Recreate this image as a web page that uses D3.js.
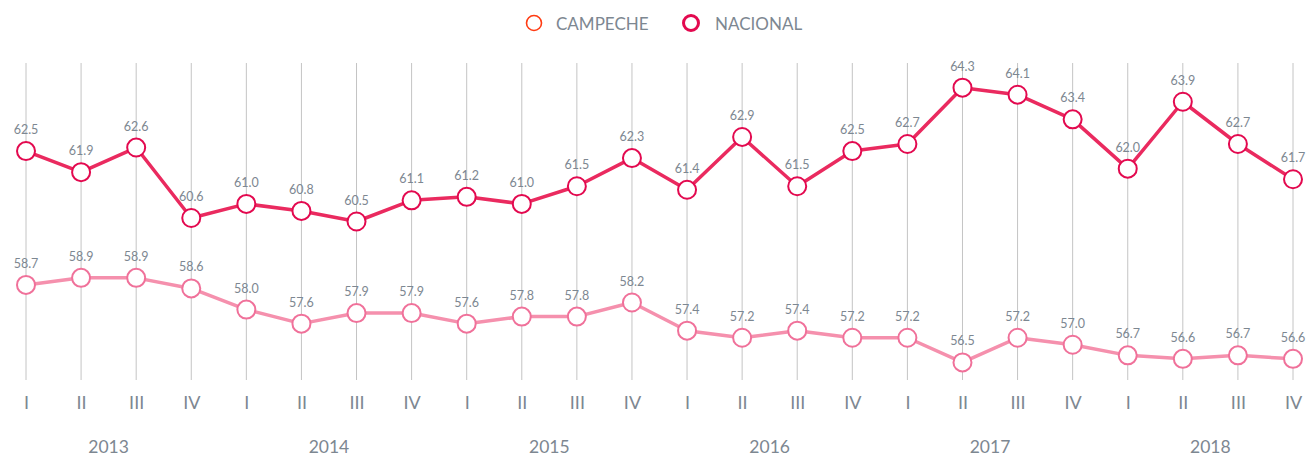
<!DOCTYPE html>
<html>
<head>
<meta charset="utf-8">
<script src="https://cdn.jsdelivr.net/npm/d3@7"></script>
<style>
  html, body { margin: 0; padding: 0; background: #fff; }
  svg { display: block; font-family: Lato, "Open Sans", sans-serif; }
</style>
</head>
<body>
<svg id="chart" width="1307" height="456"></svg>
<script>
// Quarterly series, 2013-I .. 2018-IV
const years = ["2013", "2014", "2015", "2016", "2017", "2018"];
const quarters = ["I", "II", "III", "IV"];
const campeche = [58.7, 58.9, 58.9, 58.6, 58.0, 57.6, 57.9, 57.9, 57.6, 57.8, 57.8, 58.2,
                  57.4, 57.2, 57.4, 57.2, 57.2, 56.5, 57.2, 57.0, 56.7, 56.6, 56.7, 56.6];
const nacional = [62.5, 61.9, 62.6, 60.6, 61.0, 60.8, 60.5, 61.1, 61.2, 61.0, 61.5, 62.3,
                  61.4, 62.9, 61.5, 62.5, 62.7, 64.3, 64.1, 63.4, 62.0, 63.9, 62.7, 61.7];

const periods = [];
years.forEach(y => quarters.forEach(q => periods.push(y + "-" + q)));

const svg = d3.select("#chart");
const textColor = "#7d8791";

const x = d3.scalePoint().domain(periods).range([26, 1293]);
const y = d3.scaleLinear().domain([56, 65]).range([380, 63]);

// vertical grid lines
svg.append("g").selectAll("line").data(periods).join("line")
  .attr("x1", d => x(d)).attr("x2", d => x(d))
  .attr("y1", y(65)).attr("y2", y(56))
  .attr("stroke", "#c4c4c4").attr("stroke-width", 1);

// quarter tick labels via axis
const axis = d3.axisBottom(x).tickSize(0).tickPadding(0)
  .tickFormat(d => d.split("-")[1]);
const ax = svg.append("g").attr("transform", "translate(0,399)").call(axis);
ax.select(".domain").remove();
ax.selectAll("text").attr("fill", textColor).attr("font-size", 18)
  .attr("font-family", "Lato, sans-serif").attr("dy", "0.55em");

// year labels centred under their quarters
svg.append("g").selectAll("text").data(years).join("text")
  .attr("x", d => (x(d + "-I") + x(d + "-IV")) / 2)
  .attr("y", 453)
  .attr("text-anchor", "middle")
  .attr("fill", textColor).attr("font-size", 17.5)
  .text(d => d);

const line = d3.line().x((d, i) => x(periods[i])).y(d => y(d));

function drawSeries(values, lineColor, dotColor) {
  const g = svg.append("g");
  g.append("path").datum(values)
    .attr("d", line).attr("fill", "none")
    .attr("stroke", lineColor).attr("stroke-width", 3.5)
    .attr("stroke-linejoin", "round");
  g.selectAll("circle").data(values).join("circle")
    .attr("cx", (d, i) => x(periods[i])).attr("cy", d => y(d))
    .attr("r", 9).attr("fill", "#fff")
    .attr("stroke", dotColor).attr("stroke-width", 2);
  g.selectAll("text").data(values).join("text")
    .attr("x", (d, i) => x(periods[i])).attr("y", d => y(d) - 17)
    .attr("text-anchor", "middle")
    .attr("fill", textColor).attr("font-size", 12.5)
    .text(d => d.toFixed(1));
}

drawSeries(campeche, "#f590ad", "#f0719a");
drawSeries(nacional, "#ea2a5f", "#e3094f");

// legend
const legend = svg.append("g");
legend.append("circle").attr("cx", 534).attr("cy", 23).attr("r", 7.5)
  .attr("fill", "#fff").attr("stroke", "#ff3b12").attr("stroke-width", 1.6);
legend.append("text").attr("x", 556).attr("y", 29.5)
  .attr("fill", textColor).attr("font-size", 17).text("CAMPECHE");
legend.append("circle").attr("cx", 691).attr("cy", 23).attr("r", 7.5)
  .attr("fill", "#fff").attr("stroke", "#e3094f").attr("stroke-width", 3);
legend.append("text").attr("x", 715).attr("y", 29.5)
  .attr("fill", textColor).attr("font-size", 17).text("NACIONAL");
</script>
</body>
</html>
